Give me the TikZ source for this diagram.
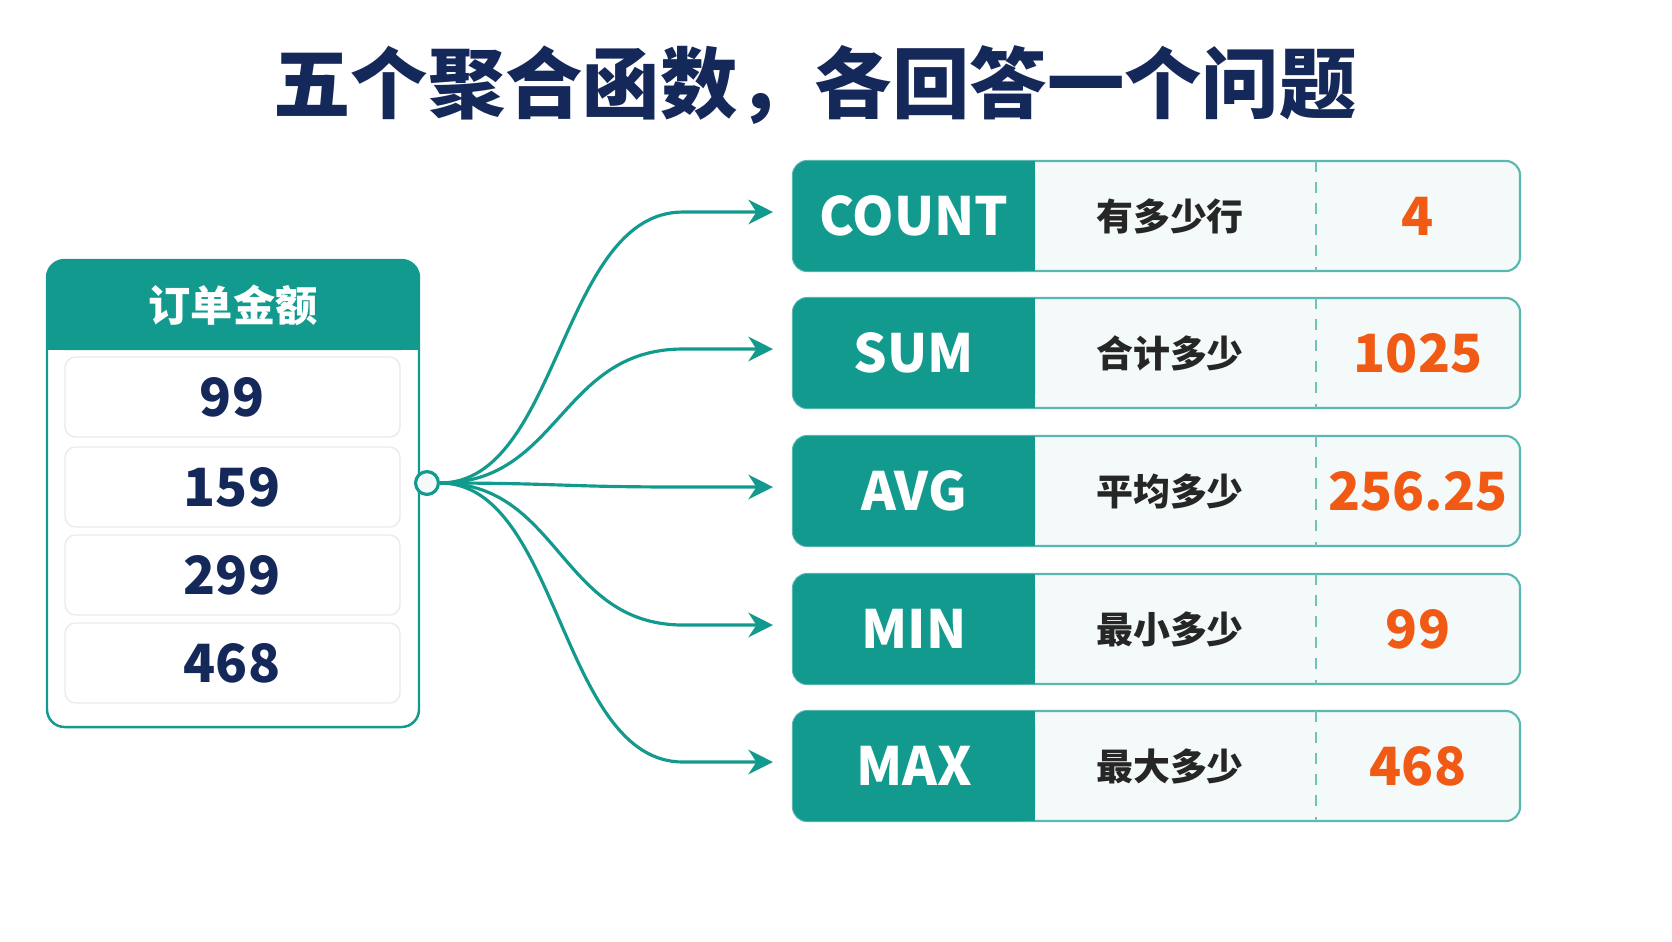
\documentclass[tikz,border=0pt]{standalone}
\usepackage{fontspec}
\setmainfont{Noto Sans CJK SC}
\usetikzlibrary{arrows.meta, calc, positioning}
\definecolor{teal1}{HTML}{139A8F}
\definecolor{navy}{HTML}{15285A}
\definecolor{orng}{HTML}{F05A14}
\definecolor{pale}{HTML}{F3FAF9}
\begin{document}
\begin{tikzpicture}[x=0.01cm, y=-0.01cm,
    conn/.style={teal1, line width=0.9pt, -{Stealth[length=7pt, width=7pt]}},
    num/.style={font=\bfseries\fontsize{15}{17}\selectfont, text=navy},
    fn/.style={font=\bfseries\fontsize{15}{17}\selectfont, text=white},
    ask/.style={font=\bfseries\fontsize{10.5}{12}\selectfont, text=black!85},
    val/.style={font=\bfseries\fontsize{15}{17}\selectfont, text=orng}
]
\fill[white] (0,0) rectangle (1672,941);
\node[font=\bfseries\fontsize{22}{26}\selectfont, text=navy] (title) at (815,85) {五个聚合函数，各回答一个问题};

% left column
\draw[teal1, line width=0.7pt, fill=white, rounded corners=5pt] (47,260) rectangle (419,727);
\fill[teal1, rounded corners=5pt] (47,260) rectangle (419,350);
\fill[teal1] (47,320) rectangle (419,350);
\node[font=\bfseries\fontsize{12}{14}\selectfont, text=white] (head) at (233,305) {订单金额};
\foreach \v/\y [count=\i] in {99/397, 159/487, 299/575, 468/663}{
  \draw[black!8, fill=white, rounded corners=3pt] (65,\y-40) rectangle (400,\y+40);
  \node[num] (row\i) at (232,\y) {\v};
}
\node[circle, draw=teal1, line width=0.9pt, fill=pale, minimum size=6.5pt, inner sep=0pt] (hub) at (427,483) {};

% result cards
\foreach \f/\q/\r/\y [count=\i] in {COUNT/有多少行/4/216, SUM/合计多少/1025/353, AVG/平均多少/256.25/491, MIN/最小多少/99/629, MAX/最大多少/468/766}{
  \draw[teal1!70, line width=0.6pt, fill=pale, rounded corners=4pt] (793,\y-55) rectangle (1520,\y+55);
  \fill[teal1, rounded corners=4pt] (793,\y-55) rectangle (1035,\y+55);
  \fill[teal1] (1000,\y-55) rectangle (1035,\y+55);
  \draw[teal1!60, dashed, line width=0.4pt] (1316,\y-55) -- (1316,\y+55);
  \node[fn] (fn\i) at (914,\y) {\f};
  \node[ask] (ask\i) at (1170,\y) {\q};
  \node[val] (val\i) at (1418,\y) {\r};
  \coordinate (tip\i) at (773,\y-4);
  \draw[conn] (hub) .. controls (560,483) and (560,\y-4) .. ($(tip\i)+(-90,0)$) -- (tip\i);
}
\end{tikzpicture}
\end{document}
